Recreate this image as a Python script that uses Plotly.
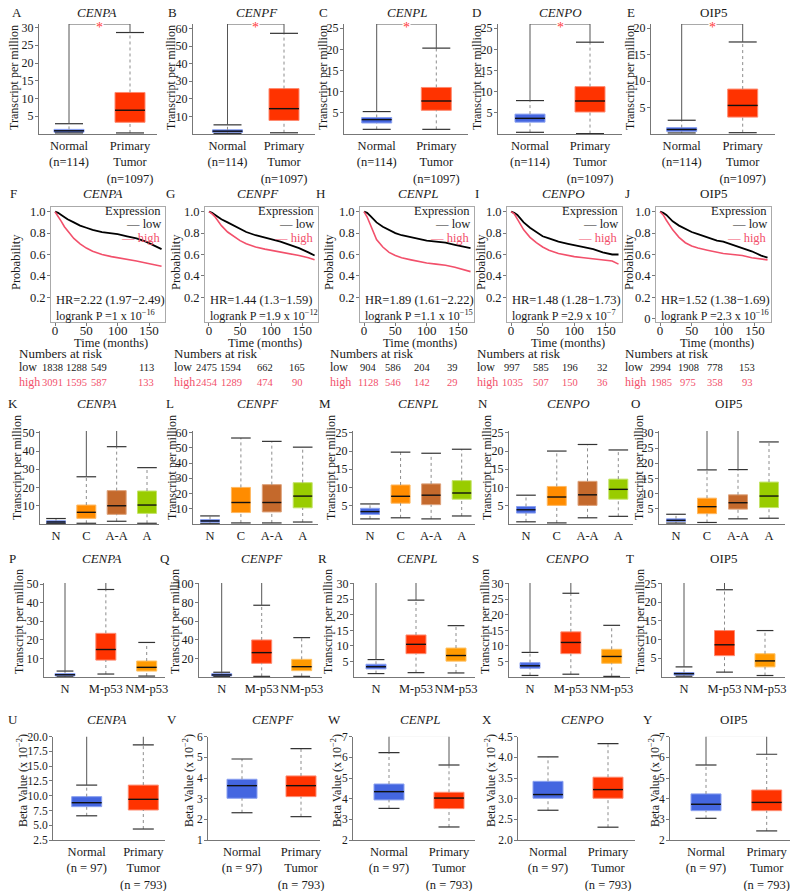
import plotly.graph_objects as go

W, H = 793, 891
SERIF = "Liberation Serif"
INK = "#1a1a1a"
KM_RED = "#f2506b"
STAR_RED = "#ff3b3b"

# ======================= DATA =======================
GENES = ["CENPA", "CENPF", "CENPL", "CENPO", "OIP5"]
GENE_ITALIC = [True, True, True, True, False]

# ---- A-E : normal vs primary tumour (TPM) ----
tcga_groups = ["Normal<br>(n=114)", "Primary<br>Tumor<br>(n=1097)"]
tcga_lo = [[0.3, 0.3], [0.3, 0.7], [1.1, 1.1], [0.4, 0.1], [0.2, 0.25]]
tcga_q1 = [[0.5, 3.3], [0.9, 7.7], [2.6, 5.6], [2.8, 5.2], [0.5, 3.2]]
tcga_med = [[0.9, 6.7], [1.6, 14.4], [3.4, 7.8], [3.7, 7.8], [0.85, 5.4]]
tcga_q3 = [[1.3, 11.7], [2.4, 25.8], [3.9, 11.0], [4.7, 11.2], [1.2, 8.5]]
tcga_hi = [[2.9, 28.6], [5.2, 57.2], [5.3, 20.3], [7.9, 21.7], [2.6, 17.4]]
tcga_sig = [(0, 1), (0, 1), (0, 1), (0, 1), (0, 1)]
tcga_yticks = [[5, 10, 15, 20, 25, 30], [10, 20, 30, 40, 50, 60], [5, 10, 15, 20, 25],
               [5, 10, 15, 20, 25], [5, 10, 15, 20]]

# ---- F-J : Kaplan-Meier survival ----
km_time = [0, 5, 10, 15, 20, 30, 40, 50, 60, 75, 90, 100, 115, 130, 145, 160, 170]
km_low = [
    [1.0, 0.99, 0.97, 0.95, 0.93, 0.90, 0.87, 0.85, 0.83, 0.81, 0.80, 0.79, 0.77, 0.75, 0.72, 0.68, 0.65],
    [1.0, 0.99, 0.97, 0.95, 0.93, 0.90, 0.87, 0.84, 0.81, 0.78, 0.76, 0.74, 0.72, 0.69, 0.66, 0.62, 0.59],
    [1.0, 0.99, 0.96, 0.93, 0.90, 0.86, 0.83, 0.80, 0.78, 0.76, 0.74, 0.73, 0.72, 0.71, 0.69, 0.67, 0.66],
    [1.0, 0.99, 0.97, 0.93, 0.90, 0.85, 0.81, 0.77, 0.75, 0.72, 0.70, 0.69, 0.67, 0.65, 0.62, 0.60, 0.60],
    [1.0, 0.99, 0.97, 0.94, 0.91, 0.87, 0.84, 0.81, 0.79, 0.76, 0.73, 0.72, 0.69, 0.66, 0.63, 0.59, 0.57],
]
km_high = [
    [1.0, 0.96, 0.91, 0.86, 0.82, 0.75, 0.70, 0.66, 0.63, 0.60, 0.58, 0.57, 0.56, 0.54, 0.52, 0.50, 0.49],
    [1.0, 0.98, 0.95, 0.91, 0.87, 0.81, 0.77, 0.73, 0.70, 0.67, 0.65, 0.64, 0.62, 0.61, 0.59, 0.57, 0.55],
    [1.0, 0.95, 0.88, 0.80, 0.74, 0.67, 0.62, 0.59, 0.57, 0.55, 0.53, 0.52, 0.51, 0.50, 0.48, 0.46, 0.44],
    [1.0, 0.98, 0.93, 0.88, 0.83, 0.76, 0.71, 0.67, 0.64, 0.61, 0.59, 0.58, 0.57, 0.56, 0.55, 0.54, 0.51],
    [1.0, 0.97, 0.92, 0.87, 0.83, 0.76, 0.71, 0.68, 0.66, 0.64, 0.62, 0.61, 0.60, 0.59, 0.57, 0.56, 0.55],
]
km_hr = ["HR=2.22 (1.97−2.49)", "HR=1.44 (1.3−1.59)", "HR=1.89 (1.61−2.22)",
         "HR=1.48 (1.28−1.73)", "HR=1.52 (1.38−1.69)"]
km_p = ["1 x 10<sup>−16</sup>", "1.9 x 10<sup>−12</sup>", "1.1 x 10<sup>−15</sup>",
        "2.9 x 10<sup>−7</sup>", "2.3 x 10<sup>−16</sup>"]
risk_low = [[1838, 1288, 549, 113], [2475, 1594, 662, 165], [904, 586, 204, 39],
            [997, 585, 196, 32], [2994, 1908, 778, 153]]
risk_high = [[3091, 1595, 587, 133], [2454, 1289, 474, 90], [1128, 546, 142, 29],
             [1035, 507, 150, 36], [1985, 975, 358, 93]]

# ---- K-O : cancer subtype ----
stage_groups = ["N", "C", "A-A", "A"]
stage_lo = [[0.2, 0.4, 1.5, 0.4], [0.2, 0.7, 0.7, 1.3], [1.4, 1.7, 1.4, 2.2], [0.6, 0.3, 1.7, 2.1], [0.3, 0.5, 1.7, 1.9]]
stage_q1 = [[0.6, 3.1, 5.3, 5.8], [1.1, 7.5, 7.9, 10.6], [2.6, 5.7, 5.3, 6.8], [3.0, 5.1, 5.1, 6.8], [0.8, 3.4, 4.9, 5.4]]
stage_med = [[1.1, 6.4, 10.0, 10.4], [2.0, 14.1, 14.1, 18.3], [3.4, 7.6, 7.9, 8.5], [3.9, 7.4, 8.0, 9.5], [1.2, 5.7, 7.0, 9.2]]
stage_q3 = [[1.8, 10.4, 18.3, 18.1], [2.9, 24.0, 25.8, 27.1], [4.3, 10.7, 11.0, 11.9], [4.8, 10.3, 11.7, 12.3], [1.7, 8.5, 9.6, 13.8]]
stage_hi = [[3.0, 25.9, 42.4, 30.9], [5.3, 56.4, 54.2, 50.4], [5.5, 19.7, 19.4, 20.5], [7.9, 20.0, 21.8, 20.3], [3.2, 17.8, 17.9, 27.0]]
stage_sig = [(1, 2), None, None, None, (1, 2)]
stage_yticks = [[10, 20, 30, 40, 50], [10, 20, 30, 40, 50, 60], [5, 10, 15, 20, 25],
                [5, 10, 15, 20, 25], [5, 10, 15, 20, 25, 30]]

# ---- P-T : TP53 mutation status ----
p53_groups = ["N", "M-p53", "NM-p53"]
p53_lo = [[0.1, 1.6, 0.5], [0.4, 0.7, 0.7], [1.1, 1.4, 1.3], [0.5, 0.9, 0.2], [0.2, 1.3, 0.4]]
p53_q1 = [[0.6, 9.1, 3.2], [1.1, 14.7, 6.8], [2.6, 7.5, 5.1], [2.8, 7.5, 4.4], [0.5, 5.7, 2.7]]
p53_med = [[1.2, 14.8, 5.2], [2.2, 26.2, 11.1], [3.3, 10.5, 6.9], [3.6, 11.1, 6.6], [0.9, 8.6, 4.3]]
p53_q3 = [[1.9, 23.5, 8.6], [3.6, 39.8, 19.0], [4.1, 13.5, 9.3], [4.6, 14.5, 8.9], [1.2, 12.4, 6.2]]
p53_hi = [[3.2, 47.1, 18.6], [5.1, 77.1, 42.3], [5.6, 24.7, 16.5], [7.9, 26.9, 16.6], [2.7, 23.3, 12.4]]
p53_sig = [(0, 1), (0, 1), (0, 1), (0, 1), (0, 1)]
p53_yticks = [[10, 20, 30, 40, 50], [20, 40, 60, 80, 100], [5, 10, 15, 20, 25, 30],
              [5, 10, 15, 20, 25, 30], [5, 10, 15, 20, 25]]

# ---- U-Y : promoter methylation (beta x 10^-2) ----
meth_groups = ["Normal<br>(n = 97)", "Primary<br>Tumor<br>(n = 793)"]
meth_lo = [[6.6, 4.36], [2.32, 2.13], [3.53, 2.63], [2.72, 2.31], [3.05, 2.44]]
meth_q1 = [[8.15, 7.58], [3.02, 3.10], [3.94, 3.52], [3.01, 3.01], [3.42, 3.42]]
meth_med = [[8.82, 9.39], [3.63, 3.63], [4.34, 4.03], [3.10, 3.22], [3.73, 3.82]]
meth_q3 = [[9.84, 11.8], [3.94, 4.10], [4.71, 4.31], [3.42, 3.52], [4.23, 4.42]]
meth_hi = [[11.8, 18.6], [4.92, 5.42], [6.23, 5.63], [4.01, 4.33], [5.63, 6.15]]
meth_sig = [(0, 1), None, (0, 1), None, (0, 1)]
meth_yticks = [[2.5, 5.0, 7.5, 10.0, 12.5, 15.0, 17.5, 20.0], [1, 2, 3, 4, 5, 6], [2, 3, 4, 5, 6, 7],
               [2.0, 2.5, 3.0, 3.5, 4.0, 4.5], [2, 3, 4, 5, 6, 7]]

# ======================= STYLE / LAYOUT CONSTANTS =======================
BLUE, BLUE_E = "#4466e0", "#8aa0f0"
RED, RED_E = "#ff3300", "#ff8a70"
ORANGE, ORANGE_E = "#ff8c00", "#ffb860"
BROWN, BROWN_E = "#c4692c", "#dea27a"
GREEN, GREEN_E = "#99cc00", "#c4e46a"
NMORANGE, NMORANGE_E = "#ff9a00", "#ffc060"

ROW1 = dict(left=[39, 193, 344, 498, 651], right=[157, 315, 468, 622, 775],
            x0=[69, 227.5, 376.7, 530, 681.7], x1=[130, 284, 436.3, 590, 742.7],
            top=24, bottom=134, box=30, cap=20,
            yrange=[[0, 31], [0, 62.5], [0, 26], [0, 26], [0, 20.8]],
            bracket=[31, 62.5, 26, 26, 20.8])
ROW3 = dict(left=[40, 193, 353, 509, 659], right=[159, 318, 475, 633, 785],
            x0=[56, 210, 370, 526, 676], x1=[147, 302.7, 461.7, 618.3, 769],
            top=431, bottom=524, box=19, cap=14,
            yrange=[[0, 51], [0, 61], [0, 25.5], [0, 25.5], [0, 30.6]],
            bracket=[55.7, None, None, None, 35.0])
ROW4 = dict(left=[44, 199, 354, 509, 662], right=[165, 322, 475, 630, 785],
            x0=[65, 221.7, 376, 530, 684], x1=[146.7, 301.7, 456, 611.7, 765],
            top=583, bottom=677, box=20, cap=12,
            yrange=[[0, 50.6], [0, 101], [0, 30.2], [0, 30.2], [0, 25.1]],
            bracket=[55.8, 111.6, 32.9, 32.7, 27.5])
ROW5 = dict(left=[53, 208, 353, 518, 670], right=[165, 320, 475, 635, 790],
            x0=[86.7, 242, 389, 548, 706], x1=[143.3, 301, 449, 608, 766.7],
            top=736.7, bottom=840, box=30, cap=15,
            yrange=[[2.5, 20.0], [1, 6.0], [2, 7.0], [2.0, 4.5], [2, 7.0]],
            bracket=[20.85, None, 7.05, None, 7.05])
KM = dict(left=[51, 205, 360, 507, 656], right=[165, 318, 474, 622, 771], top=207, bottom=322)

fig = go.Figure()
axes = {}
annotations = []
counter = [0]


def make_axes(xl, xr, yt, yb):
    counter[0] += 1
    s = "" if counter[0] == 1 else str(counter[0])
    axes["xaxis" + s] = dict(domain=[xl / W, xr / W], anchor="y" + s)
    axes["yaxis" + s] = dict(domain=[1 - yb / H, 1 - yt / H], anchor="x" + s)
    return "xaxis" + s, "yaxis" + s, "x" + s, "y" + s


def txt(x, y, s, size=13, color=INK, xanchor="center", yanchor="middle", angle=0):
    annotations.append(dict(x=x / W, y=1 - y / H, xref="paper", yref="paper", text=s,
                            showarrow=False, textangle=angle, xanchor=xanchor, yanchor=yanchor,
                            font=dict(size=size, color=color, family=SERIF)))


def box_panel(k, R, groups, lo, q1, med, q3, hi, fills, edges, sig, yticks, tickfmt, fs=12):
    xl, xr = R["left"][k], R["right"][k]
    xa, ya, xs, ys = make_axes(xl, xr, R["top"], R["bottom"])
    n = len(groups)
    sp = (R["x1"][k] - R["x0"][k]) / (n - 1)
    pos = list(range(n))
    bw = R["box"] / sp
    common = dict(xaxis=xs, yaxis=ys, showlegend=False, hoverinfo="skip")
    fig.add_trace(go.Bar(x=pos, base=q1, y=[b - a for a, b in zip(q1, q3)], width=bw,
                         marker=dict(color=fills, line=dict(color=edges, width=1)), **common))
    wx, wy = [], []
    for i in pos:
        wx += [i, i, None, i, i, None]
        wy += [lo[i], q1[i], None, q3[i], hi[i], None]
    fig.add_trace(go.Scatter(x=wx, y=wy, mode="lines",
                             line=dict(color="#8c8c8c", width=1, dash="dot"), **common))
    fig.add_trace(go.Scatter(x=pos + pos, y=list(lo) + list(hi), mode="markers",
                             marker=dict(symbol="line-ew", size=R["cap"],
                                         line=dict(color="#333333", width=1.2)), **common))
    mx, my = [], []
    for i in pos:
        mx += [i - bw / 2, i + bw / 2, None]
        my += [med[i], med[i], None]
    fig.add_trace(go.Scatter(x=mx, y=my, mode="lines", line=dict(color="#111111", width=1.4), **common))
    if sig:
        a, b = sig
        by = R["bracket"][k]
        fig.add_trace(go.Scatter(x=[a, a, b, b], y=[hi[a], by, by, hi[b]], mode="lines",
                                 line=dict(color="#555555", width=1), cliponaxis=False, **common))
        annotations.append(dict(x=(a + b) / 2, y=by, xref=xs, yref=ys, text="*", showarrow=False,
                                font=dict(color=STAR_RED, size=14, family=SERIF), bgcolor="white",
                                borderpad=0, yshift=-4))
    axes[xa].update(range=[(xl - R["x0"][k]) / sp, (xr - R["x0"][k]) / sp], tickvals=pos,
                    ticktext=groups, ticks="", tickangle=0, showline=True, linecolor="#777777",
                    linewidth=1, tickfont=dict(size=12.5, color=INK), showgrid=False,
                    zeroline=False)
    axes[ya].update(range=R["yrange"][k], tickvals=yticks, ticks="outside", ticklen=3,
                    tickcolor="#777777", showline=True, linecolor="#777777", linewidth=1,
                    tickfont=dict(size=fs, color=INK), showgrid=False, zeroline=False,
                    tickformat=tickfmt, ticklabelstandoff=-1)


def km_panel(k):
    xl, xr = KM["left"][k], KM["right"][k]
    xa, ya, xs, ys = make_axes(xl, xr, KM["top"], KM["bottom"])
    common = dict(xaxis=xs, yaxis=ys, showlegend=False, hoverinfo="skip")
    fig.add_trace(go.Scatter(x=km_time, y=km_low[k], mode="lines",
                             line=dict(color="black", width=1.8), **common))
    fig.add_trace(go.Scatter(x=km_time, y=km_high[k], mode="lines",
                             line=dict(color=KM_RED, width=1.6), **common))
    axes[xa].update(range=[-6.4, 175.5], tickvals=[0, 50, 100, 150], showline=True, mirror=True,
                    linecolor="#aaaaaa", ticks="outside", ticklen=3, tickcolor="#777777",
                    tickfont=dict(size=13, color=INK), showgrid=False, zeroline=False,
                    ticklabelstandoff=-7)
    yvals = [0.2, 0.4, 0.6, 0.8, 1.0]
    ylabels = ["0.2", "0.4", "0.6", "0.8", "1.0"]
    if k == 4:
        yvals = [0] + yvals
        ylabels = ["0"] + ylabels
    axes[ya].update(range=[-0.031, 1.044], tickvals=yvals, ticktext=ylabels,
                    showline=True, mirror=True, linecolor="#aaaaaa", ticks="outside", ticklen=3,
                    tickcolor="#777777", tickfont=dict(size=12.5, color=INK), showgrid=False,
                    zeroline=False, ticklabelstandoff=-1)
    # in-plot text
    txt(xr - 2, 211, "Expression", size=12.5, xanchor="right")
    txt(xr - 2, 224, "— low", size=12.5, xanchor="right")
    txt(xr - 2, 238, "— high", size=12.5, color=KM_RED, xanchor="right")
    txt(xl + 3, 300, km_hr[k], size=12.5, xanchor="left")
    txt(xl + 3, 315, "logrank P =" + km_p[k], size=12, xanchor="left")
    txt((xl + xr) / 2 + 3, 343, "Time (months)", size=12.5)


def gene_title(k, x, y):
    g = GENES[k]
    return txt(x, y, f"<i>{g}</i>" if GENE_ITALIC[k] else g, size=13)


# ======================= BUILD =======================
LETTERS = "ABCDEFGHIJKLMNOPQRSTUVWXY"
for k in range(5):
    box_panel(k, ROW1, tcga_groups, tcga_lo[k], tcga_q1[k], tcga_med[k], tcga_q3[k], tcga_hi[k],
              [BLUE, RED], [BLUE_E, RED_E], tcga_sig[k], tcga_yticks[k], None)
for k in range(5):
    km_panel(k)
for k in range(5):
    box_panel(k, ROW3, stage_groups, stage_lo[k], stage_q1[k], stage_med[k], stage_q3[k], stage_hi[k],
              [BLUE, ORANGE, BROWN, GREEN], [BLUE_E, ORANGE_E, BROWN_E, GREEN_E], stage_sig[k],
              stage_yticks[k], None)
for k in range(5):
    box_panel(k, ROW4, p53_groups, p53_lo[k], p53_q1[k], p53_med[k], p53_q3[k], p53_hi[k],
              [BLUE, RED, NMORANGE], [BLUE_E, RED_E, NMORANGE_E], p53_sig[k], p53_yticks[k], None)
for k in range(5):
    fmt = ".1f" if k in (0, 3) else None
    box_panel(k, ROW5, meth_groups, meth_lo[k], meth_q1[k], meth_med[k], meth_q3[k], meth_hi[k],
              [BLUE, RED], [BLUE_E, RED_E], meth_sig[k], meth_yticks[k], fmt, fs=11.5)

# titles, letters, axis titles
title_x = [[97, 257, 407, 560, 713], [103, 258, 418, 563, 713], [97, 258, 418, 568, 728],
           [102, 262, 417, 567, 723], [107, 273, 420, 582, 733]]
title_y = [12, 193, 404, 558, 719]
letter_x = [[17, 172, 323, 476, 631], [13, 170, 320, 477, 627], [13, 170, 325, 483, 635],
            [12, 165, 322, 475, 630], [13, 172, 334, 487, 648]]
ytitle_x = [[14, 171, 323, 477, 630], [16, 176, 329, 481, 629], [17, 172, 331, 487, 639],
            [19, 175, 328, 485, 640], [22, 188, 336, 490, 654]]
ytitle_y = [78, 262, 468, 622, 781]
ytitle_txt = ["Transcript per million", "Probability", "Transcript per million",
              "Transcript per million", "Beta Value (x 10<sup>−2</sup>)"]
for r in range(5):
    for k in range(5):
        gene_title(k, title_x[r][k], title_y[r])
        txt(letter_x[r][k], title_y[r], LETTERS[r * 5 + k], size=13)
        txt(ytitle_x[r][k], ytitle_y[r], ytitle_txt[r], size=12 if r != 1 else 12.5, angle=-90)

# numbers at risk
risk_label_x = [17, 172, 328, 475, 623]
risk_num_x = [[52, 76, 99, 146], [207, 231, 265, 297], [368, 393, 422, 452],
              [512, 541, 570, 602], [661, 688, 715, 747]]
for k in range(5):
    txt(risk_label_x[k], 353, "Numbers at risk", xanchor="left")
    txt(risk_label_x[k], 367, "low", size=12, xanchor="left")
    txt(risk_label_x[k], 382, "high", size=12, color=KM_RED, xanchor="left")
    for j in range(4):
        txt(risk_num_x[k][j], 367, str(risk_low[k][j]), size=10.5)
        txt(risk_num_x[k][j], 382, str(risk_high[k][j]), size=10.5, color=KM_RED)

fig.update_layout(
    width=W, height=H, margin=dict(l=0, r=0, t=0, b=0, pad=0),
    template="none", paper_bgcolor="white", plot_bgcolor="white",
    font=dict(family=SERIF, color=INK, size=12), showlegend=False, barmode="overlay",
    annotations=annotations, **axes)
fig.write_html("out.html")
